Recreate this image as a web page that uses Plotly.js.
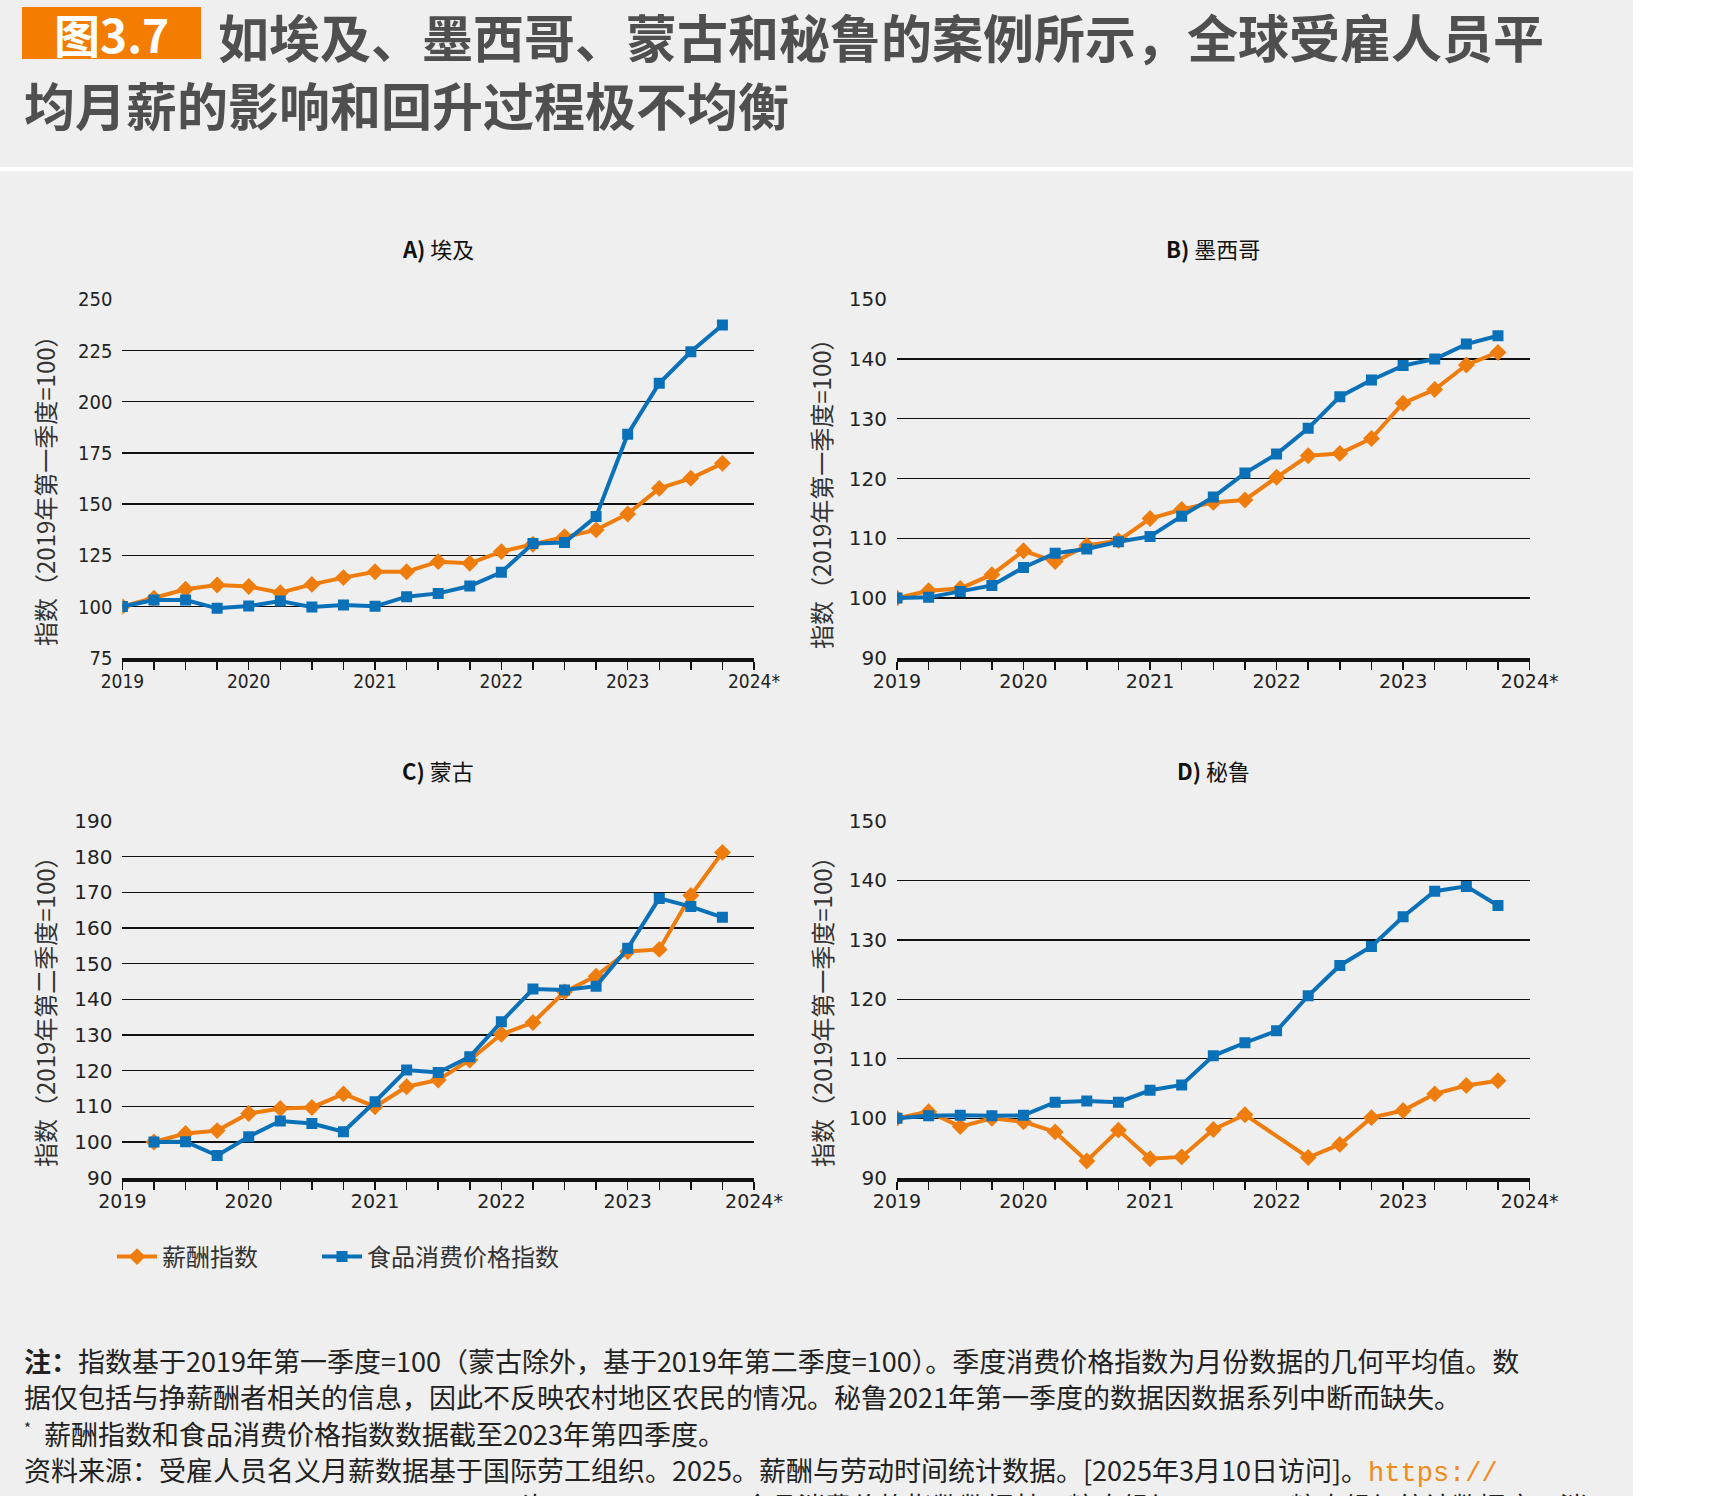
<!DOCTYPE html>
<html>
<head>
<meta charset="utf-8">
<script src="https://cdn.plot.ly/plotly-3.0.1.min.js"></script>
<style>
  html, body { margin: 0; padding: 0; background: #ffffff; }
  #chart { width: 1712px; height: 1496px; }
  #chart .xtick text, #chart .ytick text { font-stretch: condensed !important; }
</style>
</head>
<body>
<div id="chart"></div>
<script>
// ---------------- DATA ----------------
const quarters = [2019.00, 2019.25, 2019.50, 2019.75, 2020.00, 2020.25, 2020.50, 2020.75,
                  2021.00, 2021.25, 2021.50, 2021.75, 2022.00, 2022.25, 2022.50, 2022.75,
                  2023.00, 2023.25, 2023.50, 2023.75];
const quartersMongolia = [2019.25, 2019.50, 2019.75, 2020.00, 2020.25, 2020.50, 2020.75,
                  2021.00, 2021.25, 2021.50, 2021.75, 2022.00, 2022.25, 2022.50, 2022.75,
                  2023.00, 2023.25, 2023.50, 2023.75];

const egyptWage = [100, 104.0, 108.4, 110.5, 109.8, 106.7, 110.8, 114.1, 117.0, 117.0,
                   121.9, 121.1, 126.8, 130.4, 134.1, 137.4, 145.2, 157.7, 162.6, 169.9];
const egyptFood = [100, 103.2, 103.2, 99.1, 100.2, 102.7, 99.7, 100.7, 100.1, 104.8,
                   106.4, 110.0, 116.7, 130.8, 131.2, 143.9, 184.1, 209.0, 224.4, 237.5];

const mexicoWage = [100, 101.2, 101.6, 103.9, 107.9, 106.1, 108.8, 109.6, 113.3, 114.8,
                    116.0, 116.4, 120.2, 123.8, 124.2, 126.7, 132.6, 134.9, 139.0, 141.1];
const mexicoFood = [100, 100.1, 101.1, 102.1, 105.1, 107.5, 108.2, 109.4, 110.3, 113.7,
                    116.9, 120.9, 124.1, 128.4, 133.7, 136.5, 138.9, 140.0, 142.5, 143.9];

const mongoliaWage = [100, 102.4, 103.2, 108.0, 109.4, 109.7, 113.5, 109.9, 115.5, 117.4,
                      123.0, 130.2, 133.5, 142.1, 146.5, 153.4, 154.0, 169.1, 181.2];
const mongoliaFood = [100, 100.1, 96.2, 101.5, 105.9, 105.2, 102.9, 111.3, 120.2, 119.5,
                      123.9, 133.7, 142.9, 142.6, 143.7, 154.3, 168.3, 166.0, 163.0];

const peruWage = [100, 101.1, 98.6, 100.0, 99.4, 97.7, 92.8, 98.0, 93.2, 93.5,
                  98.1, 100.6, null, 93.4, 95.6, 100.1, 101.3, 104.1, 105.5, 106.3];
const peruFood = [100, 100.4, 100.5, 100.4, 100.5, 102.7, 102.9, 102.7, 104.7, 105.6,
                  110.5, 112.7, 114.7, 120.6, 125.7, 128.9, 133.9, 138.2, 139.0, 135.8];

const tickVals = [2019, 2019.25, 2019.5, 2019.75, 2020, 2020.25, 2020.5, 2020.75,
                  2021, 2021.25, 2021.5, 2021.75, 2022, 2022.25, 2022.5, 2022.75,
                  2023, 2023.25, 2023.5, 2023.75, 2024];
const tickText = ['2019', '', '', '', '2020', '', '', '', '2021', '', '', '',
                  '2022', '', '', '', '2023', '', '', '', '2024*'];

const seriesNames = ['薪酬指数', '食品消费价格指数'];
const panelTitles = ['<b>A)</b> 埃及', '<b>B)</b> 墨西哥', '<b>C)</b> 蒙古', '<b>D)</b> 秘鲁'];
const yTitles = ['指数（2019年第一季度=100）', '指数（2019年第一季度=100）',
                 '指数（2019年第二季度=100）', '指数（2019年第一季度=100）'];
const yTickValsA = [75, 100, 125, 150, 175, 200, 225, 250];
const yTickValsB = [90, 100, 110, 120, 130, 140, 150];
const yTickValsC = [90, 100, 110, 120, 130, 140, 150, 160, 170, 180, 190];
const yTickValsD = [90, 100, 110, 120, 130, 140, 150];

// ---------------- STYLE / LAYOUT ----------------
const W = 1712, H = 1496;
const px = x => x / W;
const py = y => 1 - y / H;

const ORANGE = '#ef7d0d';
const BLUE = '#0a71b9';
const CJK = 'Noto Sans CJK SC, Noto Sans, sans-serif';
const COND = 'DejaVu Sans, Roboto, sans-serif';

function wageTrace(x, y, xa, ya, show) {
  return {x: x, y: y, xaxis: xa, yaxis: ya, type: 'scatter', mode: 'lines+markers',
          name: seriesNames[0], showlegend: show, legend: 'legend', connectgaps: true,
          line: {color: ORANGE, width: 4},
          marker: {symbol: 'diamond', size: 13, color: ORANGE}};
}
function foodTrace(x, y, xa, ya, show) {
  return {x: x, y: y, xaxis: xa, yaxis: ya, type: 'scatter', mode: 'lines+markers',
          name: seriesNames[1], showlegend: show, legend: 'legend2',
          line: {color: BLUE, width: 4},
          marker: {symbol: 'square', size: 11, color: BLUE}};
}

const data = [
  wageTrace(quarters, egyptWage, 'x', 'y', true),
  foodTrace(quarters, egyptFood, 'x', 'y', true),
  wageTrace(quarters, mexicoWage, 'x2', 'y2', false),
  foodTrace(quarters, mexicoFood, 'x2', 'y2', false),
  wageTrace(quartersMongolia, mongoliaWage, 'x3', 'y3', false),
  foodTrace(quartersMongolia, mongoliaFood, 'x3', 'y3', false),
  wageTrace(quarters, peruWage, 'x4', 'y4', false),
  foodTrace(quarters, peruFood, 'x4', 'y4', false)
];

const leftDom = [px(122.4), px(754)];
const rightDom = [px(897), px(1529.6)];
const topDom = [py(657.7), py(299.3)];
const botDom = [py(1177.7), py(821)];

function xAxis(dom, anchor) {
  return {domain: dom, anchor: anchor, range: [2019, 2024], tickmode: 'array',
          tickvals: tickVals, ticktext: tickText, ticks: 'outside', ticklen: 8,
          tickwidth: 1.5, tickcolor: '#111', showline: true, linewidth: 4,
          linecolor: '#111', showgrid: false, zeroline: false, ticklabelstandoff: -5,
          tickfont: {family: COND, size: 19, color: '#222'}, fixedrange: true};
}
function yAxis(dom, anchor, range, vals) {
  return {domain: dom, anchor: anchor, range: range, tickmode: 'array', tickvals: vals,
          showgrid: true, gridcolor: '#111', gridwidth: 1.3, zeroline: false,
          showline: false, ticks: '', ticklabelstandoff: 9,
          tickfont: {family: COND, size: 20, color: '#222'}, fixedrange: true};
}

const annotations = [];
function addText(x, y, text, opts) {
  annotations.push(Object.assign({xref: 'paper', yref: 'paper', x: px(x), y: py(y),
    text: text, showarrow: false, xanchor: 'left', yanchor: 'middle'}, opts));
}

// header
addText(111, 33, '<b>图3.7</b>', {xanchor: 'center',
  font: {family: CJK, size: 46, color: '#ffffff'}});
addText(216, 36, '<b>如埃及、墨西哥、蒙古和秘鲁的案例所示，全球受雇人员平</b>',
  {font: {family: CJK, size: 51, color: '#4f4f4f'}});
addText(22, 104, '<b>均月薪的影响和回升过程极不均衡</b>',
  {font: {family: CJK, size: 51, color: '#4f4f4f'}});

// panel titles
const titlePos = [[438, 248], [1213, 248], [438, 770], [1213, 770]];
panelTitles.forEach((t, i) => addText(titlePos[i][0], titlePos[i][1], t,
  {xanchor: 'center', font: {family: CJK, size: 22, color: '#111'}}));

// y titles
const yTitlePos = [[44, 485], [821, 488], [44, 1006], [821, 1006]];
yTitles.forEach((t, i) => addText(yTitlePos[i][0], yTitlePos[i][1], t,
  {xanchor: 'center', textangle: -90, font: {family: CJK, size: 24, color: '#333'}}));

// notes
const noteFont = {family: CJK, size: 27, color: '#222'};
const URL = '#f08a1c';
addText(22, 1360, '<b>注：</b>指数基于2019年第一季度=100（蒙古除外，基于2019年第二季度=100）。季度消费价格指数为月份数据的几何平均值。数', {font: noteFont});
addText(22, 1396, '据仅包括与挣薪酬者相关的信息，因此不反映农村地区农民的情况。秘鲁2021年第一季度的数据因数据系列中断而缺失。', {font: noteFont});
addText(22, 1427, '*', {font: {family: CJK, size: 15, color: '#222'}});
addText(42, 1433, '薪酬指数和食品消费价格指数数据截至2023年第四季度。', {font: noteFont});
addText(22, 1469, '资料来源：受雇人员名义月薪数据基于国际劳工组织。2025。薪酬与劳动时间统计数据。[2025年3月10日访问]。<span style="color:' + URL + ';font-family:Liberation Mono">https://</span>', {font: noteFont});
addText(22, 1506, '<span style="color:' + URL + ';font-family:Liberation Mono">ilostat.ilo.org/topics/wages/</span>。许可：CC BY 4.0。食品消费价格指数数据基于粮农组织。2025。粮农组织统计数据库。消', {font: noteFont});

const shapes = [
  {type: 'rect', xref: 'paper', yref: 'paper', x0: 0, x1: px(1633), y0: py(167), y1: py(0),
   fillcolor: '#efefef', line: {width: 0}, layer: 'below'},
  {type: 'rect', xref: 'paper', yref: 'paper', x0: 0, x1: px(1633), y0: py(1496), y1: py(171),
   fillcolor: '#efefef', line: {width: 0}, layer: 'below'},
  {type: 'rect', xref: 'paper', yref: 'paper', x0: px(22), x1: px(201), y0: py(59), y1: py(7),
   fillcolor: '#f47c00', line: {width: 0}, layer: 'below'}
];

const legendStyle = {orientation: 'h', xanchor: 'left', yanchor: 'middle',
  font: {family: CJK, size: 24, color: '#333'}, bgcolor: 'rgba(0,0,0,0)', itemwidth: 40};

const layout = {
  width: W, height: H,
  margin: {l: 0, r: 0, t: 0, b: 0},
  paper_bgcolor: '#ffffff',
  plot_bgcolor: 'rgba(0,0,0,0)',
  font: {family: CJK, color: '#222'},
  xaxis: xAxis(leftDom, 'y'),
  yaxis: yAxis(topDom, 'x', [75, 250], yTickValsA),
  xaxis2: xAxis(rightDom, 'y2'),
  yaxis2: yAxis(topDom, 'x2', [90, 150], yTickValsB),
  xaxis3: xAxis(leftDom, 'y3'),
  yaxis3: yAxis(botDom, 'x3', [90, 190], yTickValsC),
  xaxis4: xAxis(rightDom, 'y4'),
  yaxis4: yAxis(botDom, 'x4', [90, 150], yTickValsD),
  showlegend: true,
  legend: Object.assign({x: px(112), y: py(1257)}, legendStyle),
  legend2: Object.assign({x: px(317), y: py(1257)}, legendStyle),
  annotations: annotations,
  shapes: shapes,
  hovermode: false
};

Plotly.newPlot('chart', data, layout, {displayModeBar: false, staticPlot: true});
</script>
</body>
</html>
